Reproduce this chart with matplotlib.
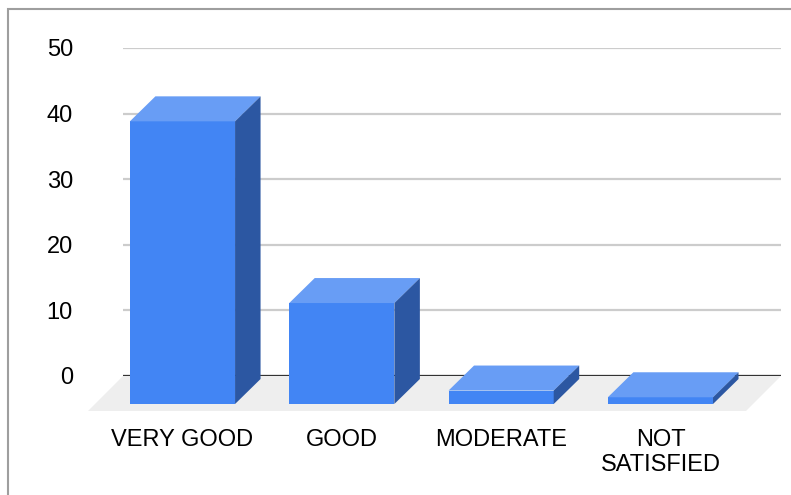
import matplotlib
matplotlib.use('Agg')
import matplotlib.pyplot as plt
from matplotlib.patches import Polygon, Rectangle
import numpy as np

plt.rcParams['font.family'] = ['Liberation Sans', 'DejaVu Sans']

categories = ['VERY GOOD', 'GOOD', 'MODERATE', 'NOT\nSATISFIED']
values = [42, 15, 2, 1]
y_ticks = [0, 10, 20, 30, 40, 50]

front_col = '#4285F4'
top_col = '#689DF5'
side_col = '#2C57A2'

W, H = 791, 495
fig = plt.figure(figsize=(W/100, H/100), dpi=100)

# back wall: gridlines + value labels
ax_back = fig.add_axes([123/W, (H-376)/H, 658/W, 328/H])
ax_back.set_ylim(0, 50)
ax_back.set_xlim(0, 1)
ax_back.set_yticks(y_ticks)
ax_back.set_xticks([])
ax_back.tick_params(axis='y', length=0, pad=36, labelsize=17)
ax_back.grid(axis='y', color='#cccccc', lw=1.6)
ax_back.axhline(0, color='#333333', lw=1.6, zorder=3)
for s in ax_back.spines.values():
    s.set_visible(False)
ax_back.patch.set_visible(False)

# floor under the bars
bw, bh = ax_back.bbox.width, ax_back.bbox.height
fx, fy = -35/bw, -35/bh
floor = Polygon([(0, 0), (1, 0), (1+fx, fy), (fx, fy)], closed=True,
                transform=ax_back.transAxes, facecolor='#eeeeee',
                edgecolor='none', clip_on=False, zorder=0)
ax_back.add_patch(floor)

# front plane: the bars themselves
ax = fig.add_axes([88/W, (H-404)/H, 658/W, 336.5/H])
ax.set_xlim(-0.593, 3.537)
ax.set_ylim(0, 50)
ax.patch.set_visible(False)
for s in ax.spines.values():
    s.set_visible(False)
ax.set_yticks([])
x = np.arange(len(categories))
ax.set_xticks(x)
ax.set_xticklabels(categories, fontsize=17, linespacing=1.2)
ax.tick_params(axis='x', length=0, pad=18)

width = 0.66
bars = ax.bar(x, values, width=width, color=front_col, zorder=3)

# depth offset of the 3d boxes, pixels -> data
inv = ax.transData.inverted()
p0 = inv.transform((0, 0))
p1 = inv.transform((25.5, 25))
ddx, ddy = p1 - p0

for xi, v in zip(x, values):
    x0, x1 = xi - width/2, xi + width/2
    top = Polygon([(x0, v), (x1, v), (x1+ddx, v+ddy), (x0+ddx, v+ddy)],
                  closed=True, facecolor=top_col, edgecolor='none', zorder=3)
    side = Polygon([(x1, 0), (x1, v), (x1+ddx, v+ddy), (x1+ddx, ddy)],
                   closed=True, facecolor=side_col, edgecolor='none', zorder=3)
    ax.add_patch(top)
    ax.add_patch(side)

# outer frame
fig.add_artist(Rectangle((8/W, -0.1), 1.2, 1.1 - 9/H + 0.0, transform=fig.transFigure,
                         fill=False, edgecolor='#9e9e9e', lw=1.5))

fig.savefig('out.png', dpi=100)
